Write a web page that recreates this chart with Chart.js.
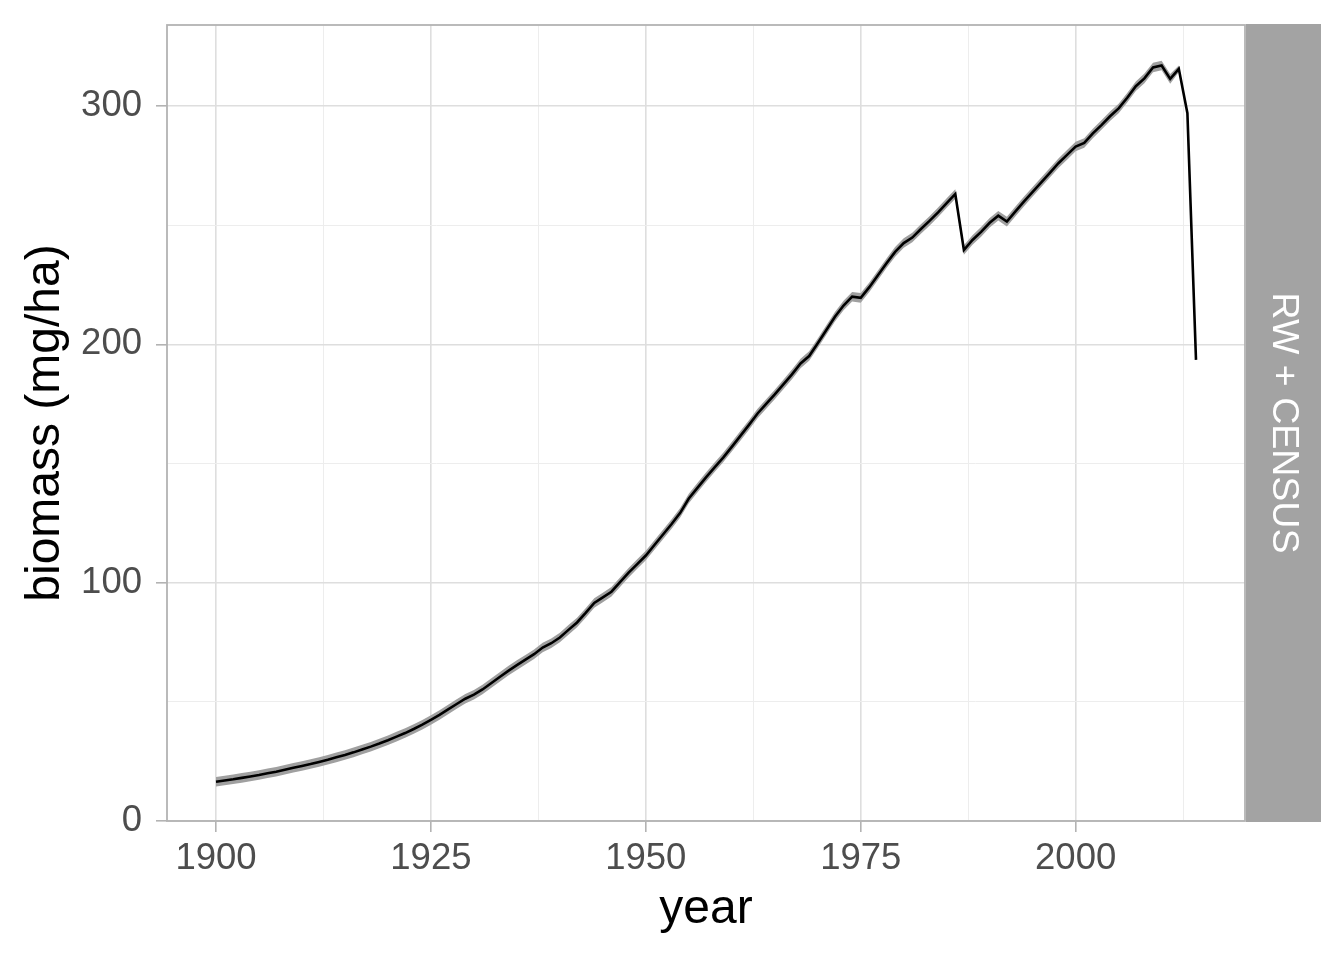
<!DOCTYPE html>
<html>
<head>
<meta charset="utf-8">
<script src="https://cdn.jsdelivr.net/npm/chart.js@4.4.1/dist/chart.umd.min.js"></script>
<style>
    html, body { margin: 0; padding: 0; background: #fff; }
    #wrap { width: 1344px; height: 960px; }
</style>
</head>
<body>
<div id="wrap"><canvas id="biomassChart"></canvas></div>
<script>
// one value per year, 1900 .. 2014
const years = Array.from({ length: 115 }, (_, i) => 1900 + i);

const biomass = [
    16.5, 17.0, 17.5, 18.1, 18.7, 19.3, 20.0, 20.7, 21.5, 22.3,
    23.1, 23.9, 24.8, 25.7, 26.7, 27.7, 28.8, 30.0, 31.2, 32.5,
    33.9, 35.4, 36.9, 38.6, 40.4, 42.4, 44.5, 46.8, 49.1, 51.3,
    53.0, 55.2, 57.8, 60.4, 63.0, 65.4, 67.7, 70.0, 72.8, 74.6,
    77.0, 80.2, 83.3, 87.3, 91.5, 93.8, 96.2, 100.2, 104.2, 107.8,
    111.4, 115.8, 120.2, 124.6, 129.3, 135.3, 139.8, 144.2, 148.4, 152.5,
    157.0, 161.6, 166.2, 171.0, 175.0, 179.0, 183.2, 187.4, 192.0, 195.1,
    200.5, 206.0, 211.6, 216.3, 220.0, 219.5, 224.0, 229.0, 234.0, 238.8,
    242.5, 244.8, 248.4, 251.8, 255.4, 259.3, 263.1, 239.6, 243.8, 247.2,
    251.0, 254.0, 251.5, 255.8, 260.0, 264.0, 268.0, 272.0, 276.0, 279.5,
    283.0, 284.5, 288.5, 292.0, 295.7, 299.0, 303.5, 308.3, 311.6, 316.2,
    317.0, 311.4, 315.6, 297.0, 193.5
];

// confidence band edges
const biomassLow = [
    14.5, 15.0, 15.5, 16.1, 16.7, 17.3, 18.0, 18.7, 19.5, 20.3,
    21.1, 21.9, 22.8, 23.7, 24.7, 25.7, 26.8, 28.0, 29.2, 30.5,
    31.9, 33.4, 34.9, 36.6, 38.4, 40.4, 42.5, 44.8, 47.1, 49.3,
    51.0, 53.2, 55.8, 58.4, 61.0, 63.4, 65.7, 68.0, 70.8, 72.6,
    75.0, 78.2, 81.3, 85.3, 89.5, 91.8, 94.2, 98.2, 102.2, 105.8,
    109.4, 113.8, 118.2, 122.6, 127.3, 133.3, 137.8, 142.2, 146.4, 150.5,
    155.0, 159.6, 164.2, 169.0, 173.0, 177.0, 181.2, 185.4, 190.0, 193.1,
    198.5, 204.0, 209.6, 214.3, 218.0, 217.5, 222.0, 227.0, 232.0, 236.8,
    240.5, 242.8, 246.4, 249.8, 253.4, 257.3, 261.1, 237.6, 241.8, 245.2,
    249.0, 252.0, 249.5, 253.8, 258.0, 262.0, 266.0, 270.0, 274.0, 277.5,
    281.0, 282.5, 286.5, 290.0, 293.7, 297.0, 301.5, 306.3, 309.6, 314.2,
    315.0, 309.4, 314.2, 296.6, 193.3
];

const biomassHigh = [
    18.5, 19.0, 19.5, 20.1, 20.7, 21.3, 22.0, 22.7, 23.5, 24.3,
    25.1, 25.9, 26.8, 27.7, 28.7, 29.7, 30.8, 32.0, 33.2, 34.5,
    35.9, 37.4, 38.9, 40.6, 42.4, 44.4, 46.5, 48.8, 51.1, 53.3,
    55.0, 57.2, 59.8, 62.4, 65.0, 67.4, 69.7, 72.0, 74.8, 76.6,
    79.0, 82.2, 85.3, 89.3, 93.5, 95.8, 98.2, 102.2, 106.2, 109.8,
    113.4, 117.8, 122.2, 126.6, 131.3, 137.3, 141.8, 146.2, 150.4, 154.5,
    159.0, 163.6, 168.2, 173.0, 177.0, 181.0, 185.2, 189.4, 194.0, 197.1,
    202.5, 208.0, 213.6, 218.3, 222.0, 221.5, 226.0, 231.0, 236.0, 240.8,
    244.5, 246.8, 250.4, 253.8, 257.4, 261.3, 265.1, 241.6, 245.8, 249.2,
    253.0, 256.0, 253.5, 257.8, 262.0, 266.0, 270.0, 274.0, 278.0, 281.5,
    285.0, 286.5, 290.5, 294.0, 297.7, 301.0, 305.5, 310.3, 313.6, 318.2,
    319.0, 313.4, 317.0, 297.4, 193.7
];

const xMajorTicks = [1900, 1925, 1950, 1975, 2000];
const xMinorTicks = [1912.5, 1937.5, 1962.5, 1987.5, 2012.5];
const yMajorTicks = [0, 100, 200, 300];
const yMinorTicks = [50, 150, 250];

const xTitle = 'year';
const yTitle = 'biomass (mg/ha)';
const stripLabel = 'RW + CENSUS';

const FONT = "'Liberation Sans', Arial, Helvetica, sans-serif";
const PANEL_LEFT = 167;
const PANEL_BOTTOM = 821;
const STRIP_WIDTH = 75;

function toPoints(values) {
    return values.map((v, i) => ({ x: years[i], y: v }));
}

function setTicks(major, minor) {
    return scale => {
        scale.ticks = [...major, ...minor].sort((a, b) => a - b).map(v => ({ value: v }));
    };
}

function gridFor(major) {
    const isMajor = ctx => ctx.tick && major.includes(ctx.tick.value);
    return {
        color: ctx => isMajor(ctx) ? '#DEDEDE' : '#EDEDED',
        lineWidth: ctx => isMajor(ctx) ? 1.6 : 1,
        tickColor: ctx => isMajor(ctx) ? '#B3B3B3' : 'rgba(0,0,0,0)',
        tickWidth: 1.6,
        tickLength: 11,
        drawTicks: true
    };
}

// facet strip + panel border, ggplot light theme style
const facetStrip = {
    id: 'facetStrip',
    afterDraw(chart) {
        const { ctx, chartArea: area } = chart;
        ctx.save();
        ctx.strokeStyle = '#B3B3B3';
        ctx.lineWidth = 1.8;
        ctx.strokeRect(area.left, area.top, area.right - area.left, area.bottom - area.top);

        ctx.fillStyle = '#A3A3A3';
        ctx.fillRect(area.right + 1, area.top - 1, STRIP_WIDTH, area.bottom - area.top + 2);

        ctx.translate(area.right + 1 + STRIP_WIDTH / 2, (area.top + area.bottom) / 2);
        ctx.rotate(Math.PI / 2);
        ctx.fillStyle = '#FFFFFF';
        ctx.font = `37.5px ${FONT}`;
        ctx.textAlign = 'center';
        ctx.textBaseline = 'middle';
        ctx.fillText(stripLabel, 0, 0);
        ctx.restore();
    }
};

const chart = new Chart(document.getElementById('biomassChart'), {
    type: 'line',
    data: {
        datasets: [
            {
                label: 'upper',
                data: toPoints(biomassHigh),
                borderWidth: 0,
                pointRadius: 0,
                backgroundColor: '#A0A0A0',
                fill: '+1',
                order: 2
            },
            {
                label: 'lower',
                data: toPoints(biomassLow),
                borderWidth: 0,
                pointRadius: 0,
                fill: false,
                order: 2
            },
            {
                label: 'biomass',
                data: toPoints(biomass),
                borderColor: '#000000',
                borderWidth: 2.6,
                pointRadius: 0,
                fill: false,
                tension: 0,
                order: 0
            }
        ]
    },
    options: {
        responsive: true,
        maintainAspectRatio: false,
        animation: false,
        devicePixelRatio: 1,
        layout: { padding: { top: 25, right: 99, left: 0, bottom: 0 } },
        plugins: {
            legend: { display: false },
            tooltip: { enabled: false },
            filler: { propagate: false }
        },
        scales: {
            x: {
                type: 'linear',
                min: 1894.3,
                max: 2019.7,
                afterBuildTicks: setTicks(xMajorTicks, xMinorTicks),
                afterFit: scale => {
                    scale.height = 960 - PANEL_BOTTOM;
                    scale.paddingLeft = 0;
                    scale.paddingRight = 0;
                },
                border: { display: false },
                grid: gridFor(xMajorTicks),
                ticks: {
                    autoSkip: false,
                    maxRotation: 0,
                    padding: 5,
                    color: '#4D4D4D',
                    font: { family: FONT, size: 36.5, lineHeight: 1.2 },
                    callback: value => xMajorTicks.includes(value) ? String(value) : ''
                },
                title: {
                    display: true,
                    text: xTitle,
                    color: '#000000',
                    font: { family: FONT, size: 48, lineHeight: 1.2 },
                    padding: { top: 0, bottom: 21 }
                }
            },
            y: {
                type: 'linear',
                min: 0,
                max: 334,
                afterBuildTicks: setTicks(yMajorTicks, yMinorTicks),
                afterFit: scale => {
                    scale.width = PANEL_LEFT;
                    scale.paddingTop = 0;
                    scale.paddingBottom = 0;
                },
                border: { display: false },
                grid: gridFor(yMajorTicks),
                ticks: {
                    autoSkip: false,
                    padding: 14,
                    color: '#4D4D4D',
                    font: { family: FONT, size: 36.5, lineHeight: 1.2 },
                    callback: value => yMajorTicks.includes(value) ? String(value) : ''
                },
                title: {
                    display: true,
                    text: yTitle,
                    color: '#000000',
                    font: { family: FONT, size: 48, lineHeight: 1.2 },
                    padding: { top: 17, bottom: 0 }
                }
            }
        }
    },
    plugins: [facetStrip]
});
</script>
</body>
</html>
